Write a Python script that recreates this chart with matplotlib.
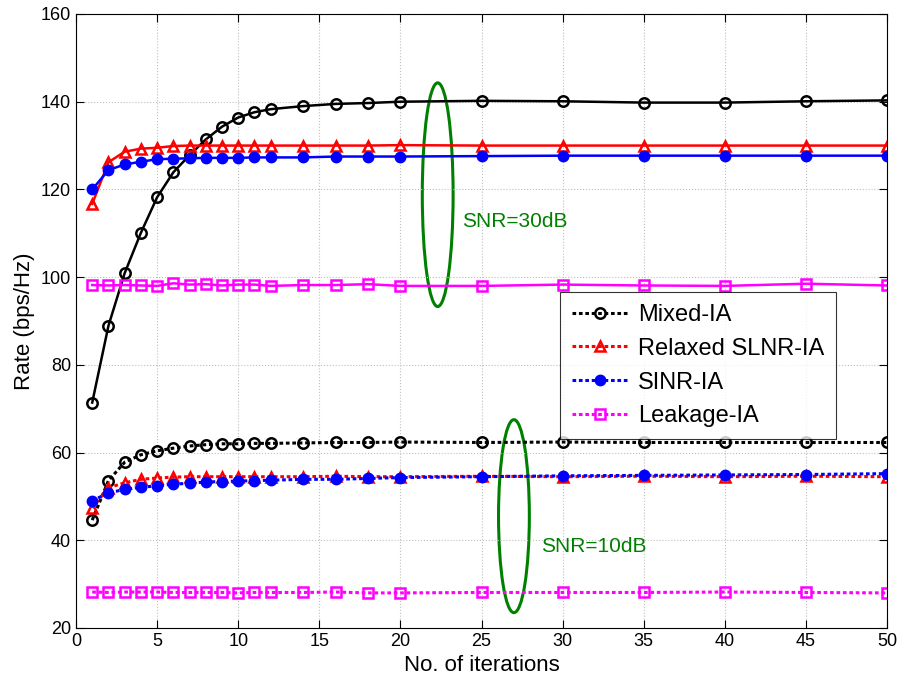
import matplotlib
matplotlib.use("Agg")
import matplotlib.pyplot as plt
from matplotlib.patches import Ellipse

plt.rcParams['font.family'] = ['Liberation Sans', 'DejaVu Sans']

iters = [1, 2, 3, 4, 5, 6, 7, 8, 9, 10, 11, 12, 14, 16, 18, 20, 25, 30, 35, 40, 45, 50]

mixed_30 = [71.4, 88.9, 100.9, 110.1, 118.2, 123.9, 127.8, 131.4, 134.3, 136.4, 137.6, 138.3,
            139.0, 139.5, 139.7, 140.0, 140.2, 140.1, 139.8, 139.8, 140.1, 140.3]
relaxed_30 = [116.7, 126.2, 128.6, 129.3, 129.5, 129.9, 130.0, 130.0, 130.0, 130.0, 130.0, 130.0,
              130.0, 130.0, 130.0, 130.1, 130.0, 130.0, 130.0, 130.0, 130.0, 130.0]
sinr_30 = [120.0, 124.4, 125.7, 126.3, 126.9, 127.0, 127.1, 127.2, 127.2, 127.2, 127.3, 127.3,
           127.3, 127.5, 127.5, 127.5, 127.6, 127.7, 127.7, 127.7, 127.7, 127.7]
leak_30 = [98.2, 98.1, 98.2, 98.1, 98.0, 98.6, 98.3, 98.4, 98.1, 98.3, 98.3, 98.0,
           98.2, 98.2, 98.4, 98.0, 98.0, 98.3, 98.1, 98.0, 98.5, 98.1]

mixed_10 = [44.6, 53.6, 57.8, 59.5, 60.4, 61.0, 61.5, 61.8, 62.0, 62.0, 62.1, 62.1,
            62.2, 62.3, 62.3, 62.4, 62.3, 62.4, 62.3, 62.3, 62.3, 62.3]
relaxed_10 = [47.4, 52.0, 53.1, 53.9, 54.2, 54.4, 54.5, 54.5, 54.5, 54.5, 54.5, 54.5,
              54.5, 54.6, 54.5, 54.5, 54.6, 54.5, 54.6, 54.5, 54.6, 54.5]
sinr_10 = [49.0, 50.8, 51.6, 52.1, 52.4, 52.8, 53.0, 53.3, 53.4, 53.5, 53.6, 53.7,
           53.9, 53.9, 54.1, 54.3, 54.5, 54.7, 54.8, 54.9, 55.0, 55.2]
leak_10 = [28.2, 28.1, 28.2, 28.2, 28.2, 28.1, 28.1, 28.1, 28.1, 28.0, 28.1, 28.1,
           28.1, 28.2, 28.0, 28.0, 28.1, 28.1, 28.1, 28.2, 28.1, 28.0]

labels = ['Mixed-IA', 'Relaxed SLNR-IA', 'SINR-IA', 'Leakage-IA']

fig = plt.figure(figsize=(8.97, 6.84), dpi=100)
ax = fig.add_axes([76 / 897, 56 / 684, 811 / 897, 614 / 684])

lw = 1.8
ms = 7.5
styles = [
    dict(color='black', marker='o', mfc='none', mec='black', mew=1.8),
    dict(color='red', marker='^', mfc='none', mec='red', mew=1.8),
    dict(color='blue', marker='o', mfc='blue', mec='blue', mew=1.0),
    dict(color='magenta', marker='s', mfc='none', mec='magenta', mew=1.8),
]
data30 = [mixed_30, relaxed_30, sinr_30, leak_30]
data10 = [mixed_10, relaxed_10, sinr_10, leak_10]

for d, st in zip(data30, styles):
    ax.plot(iters, d, linestyle='-', lw=lw, ms=ms, **st)
handles = []
for d, st, lab in zip(data10, styles, labels):
    h, = ax.plot(iters, d, linestyle=(0, (1.2, 0.9)), lw=2.2, ms=ms, label=lab, **st)
    handles.append(h)

ax.add_patch(Ellipse((22.3, 118.8), 1.9, 51, fill=False, ec='green', lw=2.2))
ax.add_patch(Ellipse((27.0, 45.5), 1.9, 44, fill=False, ec='green', lw=2.2))
ax.text(23.8, 112.6, 'SNR=30dB', color='green', fontsize=15, va='center', ha='left')
ax.text(28.7, 38.5, 'SNR=10dB', color='green', fontsize=15, va='center', ha='left')

ax.set_xlim(0, 50)
ax.set_ylim(20, 160)
ax.set_xticks(range(0, 51, 5))
ax.set_yticks(range(20, 161, 20))
ax.tick_params(direction='in', labelsize=13, top=True, right=True, length=6)
ax.grid(True, linestyle=':', color='#c0c0c0', lw=0.8)
ax.set_xlabel('No. of iterations', fontsize=16)
ax.set_ylabel('Rate (bps/Hz)', fontsize=16)

leg = ax.legend(handles=handles, loc='upper left', bbox_to_anchor=(0.597, 0.547),
                borderaxespad=0.0,
                fontsize=17, frameon=True, fancybox=False, edgecolor='black',
                handlelength=2.4, handletextpad=0.4, borderpad=0.5, labelspacing=0.5)
leg.get_frame().set_linewidth(0.8)

fig.savefig('out.png', dpi=100)
